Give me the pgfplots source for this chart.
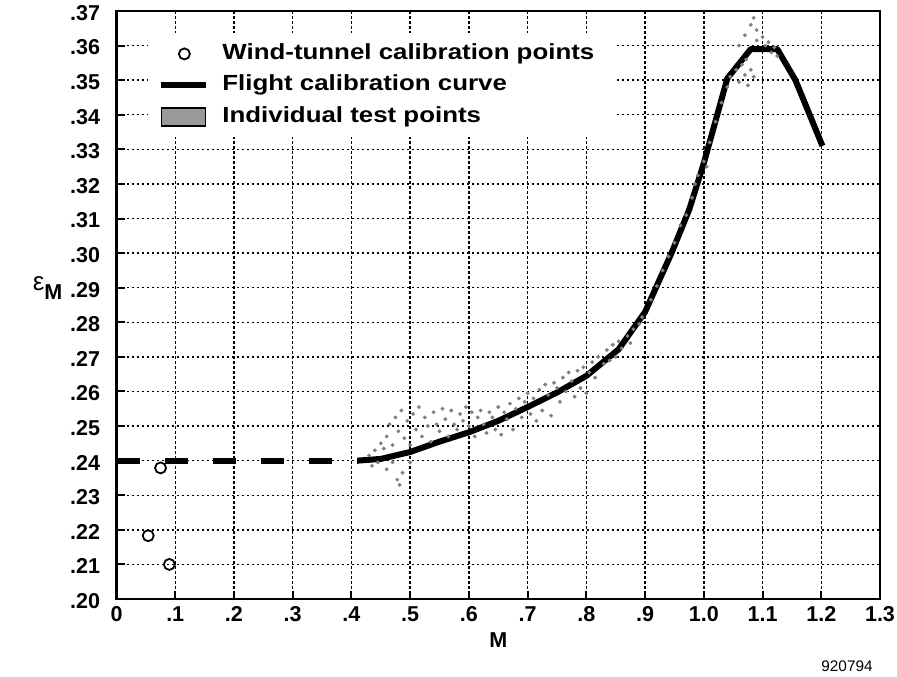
\documentclass[border=0pt]{standalone}
\usepackage{pgfplots}
\pgfplotsset{compat=1.18}
\usepackage{fontspec}
\setmainfont{Liberation Sans}
\newfontfamily\legfont{Liberation Sans}[FakeStretch=1.18]
\begin{document}
\begin{tikzpicture}
\begin{axis}[
  scale only axis,
  clip=false,
  width=381.75bp, height=294bp,
  xmin=0, xmax=1.3, ymin=0.20, ymax=0.37,
  xtick={0,0.1,0.2,0.3,0.4,0.5,0.6,0.7,0.8,0.9,1.0,1.1,1.2,1.3},
  xticklabels={0,.1,.2,.3,.4,.5,.6,.7,.8,.9,1.0,1.1,1.2,1.3},
  ytick={0.20,0.21,0.22,0.23,0.24,0.25,0.26,0.27,0.28,0.29,0.30,0.31,0.32,0.33,0.34,0.35,0.36,0.37},
  yticklabels={.20,.21,.22,.23,.24,.25,.26,.27,.28,.29,.30,.31,.32,.33,.34,.35,.36,.37},
  ticklabel style={font=\fontsize{10.8}{12}\selectfont\bfseries, inner sep=0pt},
  xticklabel style={anchor=north, yshift=-3.5bp, text height=7.8bp, text depth=0pt},
  yticklabel style={anchor=east, xshift=-8bp, yshift=-1bp},
  tick align=inside, tick pos=left,
  major tick length=4bp,
  every tick/.style={black, line width=1bp},
  axis line style={black, line width=1.3bp},
  grid=major,
  major grid style={black, line width=0.7bp, dash pattern=on 1.3bp off 1.2bp},
  xlabel={M},
  xlabel style={font=\fontsize{10.8}{12}\selectfont\bfseries, at={(axis description cs:0.5,0)}, anchor=north, inner sep=0pt, yshift=-16.5bp},
  legend style={at={(rel axis cs:0,1)}, anchor=north west, xshift=15.75bp, yshift=-11bp,
    draw=none, fill=white, inner xsep=5bp, inner ysep=5bp,
    font=\fontsize{11}{13}\legfont\bfseries,
    nodes={inner xsep=6.5bp, inner ysep=0pt, text height=8bp, text depth=2.5bp},
    row sep=5.25bp},
  legend cell align=left,
]
\addlegendimage{legend image code/.code={\path[draw=none,fill=none] (0bp,-4.5bp) rectangle (22.5bp,4.5bp); \draw[black, line width=0.9bp] (11.5bp,0bp) circle (2.75bp);}}
\addlegendimage{legend image code/.code={\path[draw=none,fill=none] (0bp,-4.5bp) rectangle (22.5bp,4.5bp); \draw[black, line width=3bp] (0bp,0bp) -- (22.5bp,0bp);}}
\addlegendimage{legend image code/.code={\draw[black, line width=0.7bp, fill=black!40] (0bp,-4.5bp) rectangle (22bp,4.5bp);}}
\legend{Wind-tunnel calibration points, Flight calibration curve, Individual test points}

% individual test points (scatter)
\addplot[forget plot, only marks, mark=*, mark size=0.75bp, black!50] coordinates {
(.43,.2415)(.435,.2385)(.44,.243)(.445,.2395)(.45,.245)(.455,.2435)(.46,.247)(.46,.2375)(.465,.2505)(.47,.2445)(.47,.2395)(.475,.2525)(.478,.2345)(.48,.2485)(.482,.2330)(.485,.2545)(.487,.2365)(.49,.2465)(.495,.2515)(.50,.2445)(.50,.2395)(.505,.2535)
(.51,.2490)(.515,.2555)(.52,.2470)(.525,.2525)(.53,.2500)(.535,.2455)(.54,.2540)(.545,.2505)(.55,.2485)(.555,.2550)(.56,.2520)(.565,.2470)(.57,.2545)(.575,.2505)(.58,.2490)(.585,.2535)(.59,.2515)(.595,.2555)(.60,.2500)(.605,.2540)
(.61,.2470)(.615,.2525)(.62,.2545)(.625,.2505)(.63,.2480)(.635,.2540)(.64,.2525)(.645,.2490)(.65,.2555)(.655,.2475)(.66,.2540)(.665,.2520)(.67,.2565)(.675,.2490)(.68,.2550)(.685,.2580)(.69,.2525)(.695,.2570)(.70,.2595)
(.705,.2535)(.71,.2580)(.715,.2515)(.72,.2605)(.725,.2545)(.73,.2620)(.735,.2590)(.74,.2530)(.745,.2625)(.75,.2610)(.755,.2570)(.76,.2640)(.765,.2600)(.77,.2655)(.775,.2630)(.78,.2585)(.785,.2660)(.79,.2610)(.795,.2670)(.80,.2595)(.805,.2655)
(.81,.2685)(.815,.2640)(.82,.2700)(.83,.2680)(.835,.2720)(.84,.2690)(.845,.2735)(.85,.2700)(.855,.2745)(.86,.2725)(.87,.2760)(.875,.2740)(.88,.2780)(.89,.2795)(.895,.2815)
(.91,.2865)(.92,.2905)(.93,.2950)(.94,.2990)(.95,.3030)(.96,.3080)(.97,.3110)(.98,.3160)(.985,.3200)(.99,.3225)(1.0,.3265)(1.005,.3250)(1.01,.3320)(1.02,.3380)(1.03,.3435)(1.04,.3480)(1.045,.3510)
(1.055,.3530)(1.06,.3495)(1.065,.3545)(1.07,.3515)(1.072,.3560)(1.075,.3485)(1.08,.3530)(1.085,.3510)(1.06,.3600)(1.07,.3630)(1.08,.3660)(1.085,.3680)(1.09,.3645)(1.09,.3615)(1.10,.3625)(1.105,.3600)(1.11,.3610)(1.115,.3580)(1.12,.3595)(1.125,.3570)
};

% dashed extrapolation
\addplot[forget plot, black, line width=3bp, dash pattern=on 11.5bp off 12.5bp] coordinates {(0,0.240) (0.41,0.240)};

% flight calibration curve
\addplot[forget plot, black, line width=3bp, line join=round] coordinates {
(0.41,0.2400)(0.45,0.2405)(0.50,0.2425)(0.55,0.2455)(0.60,0.2482)(0.65,0.2515)(0.70,0.2555)(0.75,0.2597)(0.80,0.2645)(0.855,0.2722)(0.90,0.2830)(0.945,0.3000)(0.975,0.3125)(1.0,0.3260)(1.04,0.3505)(1.08,0.3590)(1.125,0.3590)(1.156,0.3500)(1.202,0.3310)
};

% wind-tunnel calibration points
\addplot[forget plot, only marks, mark=o, mark size=2.75bp, black, mark options={line width=0.9bp}] coordinates {
(0.075,0.2379)(0.054,0.2183)(0.090,0.2100)
};

\node[anchor=base west, inner sep=0pt, xshift=-42bp, yshift=1.5bp] at (rel axis cs:0,0.5204)
  {\fontsize{13}{14}\selectfont ε\raisebox{-4.5bp}{\fontsize{10.8}{12}\selectfont\bfseries M}};
\node[anchor=base east, inner sep=0pt, xshift=-3.5bp, yshift=-36bp] at (rel axis cs:1,0)
  {\fontsize{7.7}{9}\selectfont 920794};
\coordinate (sw) at (rel axis cs:0,0);
\end{axis}
\pgfresetboundingbox
\path[use as bounding box] (sw) ++(-58.25bp,-39bp) rectangle ++(448.5bp,338.5bp);
\end{tikzpicture}
\end{document}
